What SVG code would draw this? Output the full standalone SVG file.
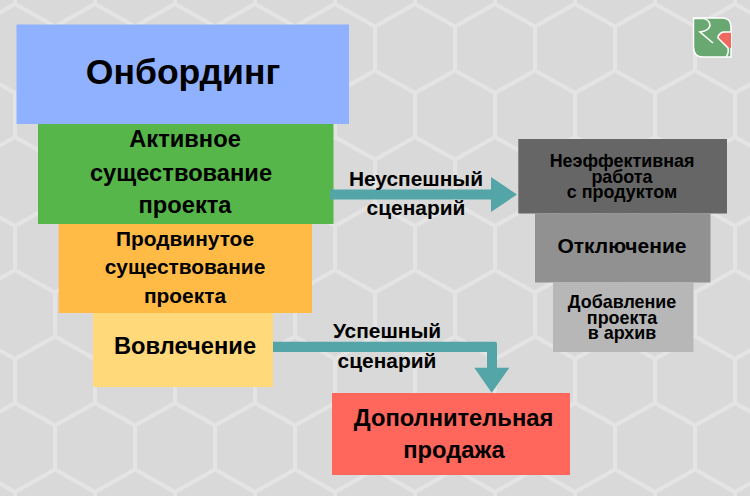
<svg xmlns="http://www.w3.org/2000/svg" width="750" height="496" viewBox="0 0 750 496">
<style>
text{font-family:"Liberation Sans",Arial,sans-serif;font-weight:bold;text-anchor:middle;fill:#000}
.conn{fill:#53a5a7}
</style>
<defs>
<pattern id="hex" patternUnits="userSpaceOnUse" x="-25" y="-18" width="80" height="133">
<path d="M40 0V22L80 44.500V88.500L40 111V133M40 22L0 44.500V88.500L40 111" fill="none" stroke="#e4e4e4" stroke-width="4"/>
</pattern>
</defs>
<rect width="750" height="496" fill="#d9d9d9"/>
<rect width="750" height="496" fill="url(#hex)"/>
<g id="onboarding"><rect x="16.500" y="24.500" width="332.500" height="99.500" fill="#8fb1ff"/><text x="183" y="84" font-size="35.600">Онбординг</text></g>
<g id="active"><rect x="38" y="124" width="295.500" height="100" fill="#56b64a"/><text x="185" y="147" font-size="23.700">Активное</text><text x="181" y="180.500" font-size="23.700">существование</text><text x="185" y="213" font-size="23.700">проекта</text></g>
<g id="advanced"><rect x="58.700" y="224" width="253.300" height="89" fill="#ffbb46"/><text x="185" y="246" font-size="20.900">Продвинутое</text><text x="185" y="274" font-size="20.900">существование</text><text x="185" y="303" font-size="20.900">проекта</text></g>
<g id="engagement"><rect x="93" y="313" width="180" height="74" fill="#ffd97a"/><text x="185" y="354" font-size="23.700">Вовлечение</text></g>
<g id="inefficient"><rect x="518.300" y="139" width="208.700" height="74.500" fill="#666"/><text x="622" y="167" font-size="17.900">Неэффективная</text><text x="622" y="182.500" font-size="17.900">работа</text><text x="622" y="198" font-size="17.900">с продуктом</text></g>
<g id="disable"><rect x="535" y="213.500" width="175.500" height="69" fill="#919191"/><text x="622" y="253" font-size="21">Отключение</text></g>
<g id="archive"><rect x="553" y="282.500" width="140.500" height="69.500" fill="#b7b7b7"/><text x="622" y="308" font-size="17.900">Добавление</text><text x="622" y="323.700" font-size="17.900">проекта</text><text x="622" y="339" font-size="17.900">в архив</text></g>
<g id="upsell"><rect x="332" y="393" width="238" height="82" fill="#ff665c"/><text x="453.500" y="426" font-size="23.700">Дополнительная</text><text x="454" y="458" font-size="23.700">продажа</text></g>
<g id="connectors">
<path class="conn" d="M330 189.500H491V177L517 194.500L491 212V199.500H330Z"/>
<path class="conn" d="M273 341.700H495Q497 341.700 497 343.700V367.700H509.300L491.700 392.700L474.300 367.700H487V352H273Z"/>
</g>
<g id="labels">
<text x="416" y="186" font-size="20.900">Неуспешный</text><text x="416" y="215" font-size="20.900">сценарий</text>
<text x="387" y="338" font-size="20.900">Успешный</text><text x="387" y="368" font-size="20.900">сценарий</text>
</g>
<g id="logo">
<path d="M693.500 18H722Q731 18 731 27V57H703Q693.500 57 693.500 47Z" fill="#69a870" stroke="#fff" stroke-width="1.500"/>
<path d="M731 32H723Q718 34 718 38L728 48H731Z" fill="#f0695f"/>
<path d="M694 18.500H704Q710 20 710 26Q708 31 700 32L713 43M731 32H723Q718 34 718 38L728 48Q729 53 726 57" fill="none" stroke="#fff" stroke-width="1.600"/>
</g>
</svg>
